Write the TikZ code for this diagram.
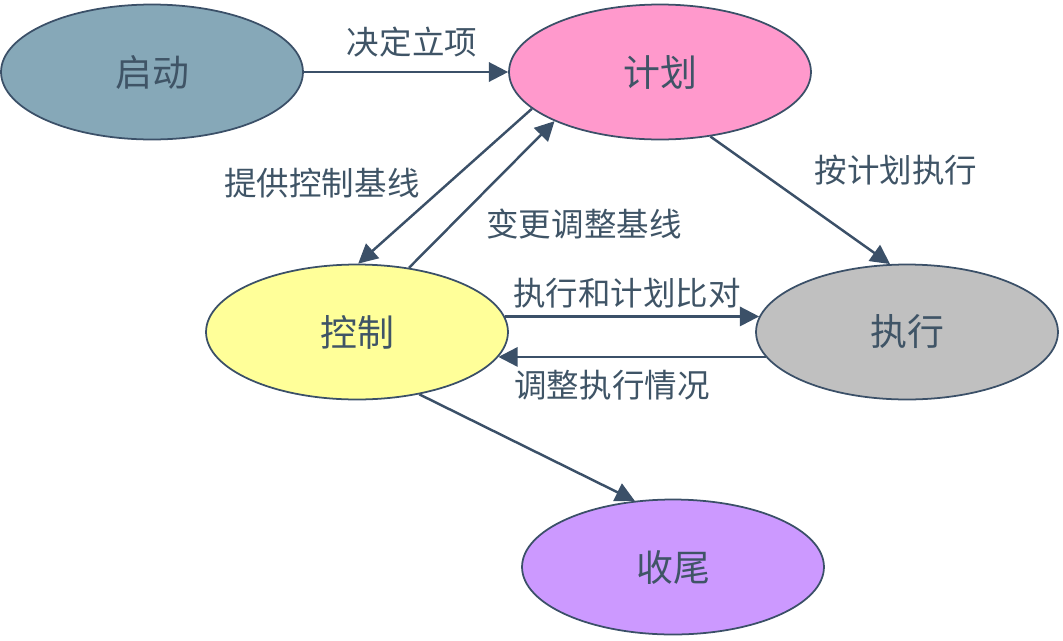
\documentclass[tikz,border=0pt]{standalone}
\usepackage{fontspec}
\newfontfamily\cjk{Noto Sans CJK SC}
\usetikzlibrary{shapes.geometric,arrows.meta}
\definecolor{lineblue}{HTML}{3B5068}
\definecolor{textblue}{HTML}{3F5466}
\definecolor{qdfill}{HTML}{86A8B8}
\definecolor{jhfill}{HTML}{FF99CC}
\definecolor{kzfill}{HTML}{FFFF99}
\definecolor{zxfill}{HTML}{C0C0C0}
\definecolor{swfill}{HTML}{CC99FF}

\begin{document}
\begin{tikzpicture}[x=0.02cm,y=-0.02cm]
            \tikzset{phase/.style={ellipse,draw=lineblue,line width=1pt,minimum width=6.04cm,minimum height=2.7cm,inner sep=0pt,text=textblue,font=\cjk\fontsize{21}{21}\selectfont}};
            \tikzset{flow/.style={-{Triangle[length=11pt,width=11pt]},lineblue,line width=1.4pt}};
            \tikzset{lbl/.style={text=textblue,font=\cjk\fontsize{18.5}{18.5}\selectfont}};
            \useasboundingbox (0,0) rectangle (1063,640);

            \node[phase,fill=qdfill] (qd) at (152,72){启动};
            \node[phase,fill=jhfill] (jh) at (660,72){计划};
            \node[phase,fill=kzfill] (kz) at (357,332){控制};
            \node[phase,fill=zxfill] (zx) at (907,332){执行};
            \node[phase,fill=swfill] (sw) at (673,567){收尾};

            \node[lbl] (l1) at (412,42){决定立项};
            \node[lbl] (l2) at (896,170){按计划执行};
            \node[lbl] (l3) at (322,183){提供控制基线};
            \node[lbl] (l4) at (584,224){变更调整基线};
            \node[lbl] (l5) at (627,293){执行和计划比对};
            \node[lbl] (l6) at (612,385){调整执行情况};

            \draw[flow] (qd.east) -- (jh.west);
            \draw[flow] (jh.-52) -- (zx.104);
            \draw[flow] (jh.196) -- (kz.89);
            \draw[flow] (kz.51) -- (jh.205);
            \draw[flow] (kz.6) -- (zx.174);
            \draw[flow] (zx.190.7) -- (kz.-10.7);
            \draw[flow] (kz.-45) -- (sw.120);
          \end{tikzpicture}
\end{document}
